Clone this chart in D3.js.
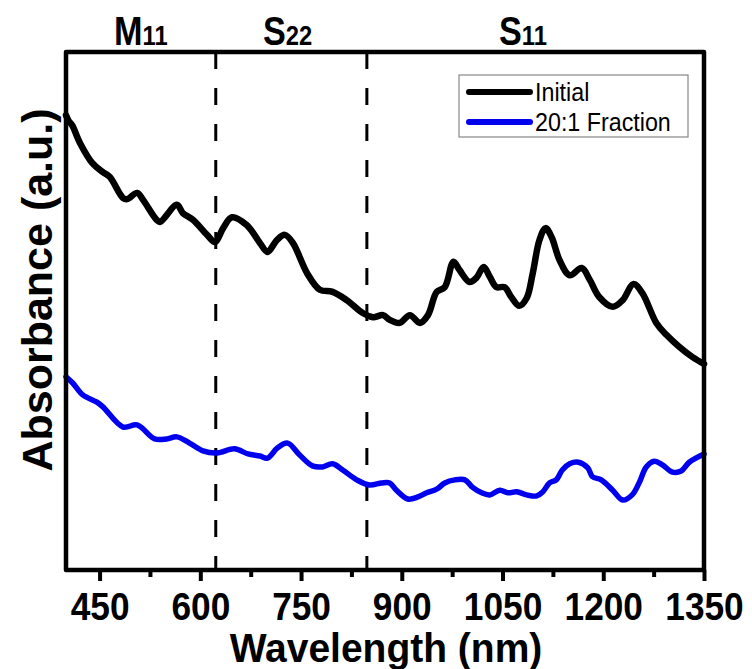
<!DOCTYPE html>
<html><head><meta charset="utf-8">
<script src="https://cdn.jsdelivr.net/npm/d3@7"></script>
<style>body{margin:0;background:#fff;}svg{display:block;}</style>
</head><body>
<script>
// Data (wavelength nm, absorbance a.u.)
const initialWl = [400,404,409,421,439,455,465,485,491,506,515,535,540,565,574,589,610,622,634,647,669,689,700,714,726,738,759,778,797,818,842,857,872,882,897,912,927,939,952,964,977,986,1001,1011,1022,1031,1041,1053,1063,1075,1086,1095,1105,1114,1123,1135,1150,1168,1180,1194,1214,1229,1245,1258,1279,1294,1313,1333,1350];
const initialAbs = [0.878,0.867,0.859,0.824,0.786,0.768,0.759,0.718,0.716,0.728,0.714,0.676,0.672,0.705,0.689,0.676,0.647,0.633,0.660,0.681,0.666,0.631,0.614,0.637,0.647,0.631,0.573,0.541,0.537,0.521,0.496,0.488,0.492,0.483,0.477,0.492,0.477,0.492,0.537,0.546,0.595,0.579,0.556,0.564,0.585,0.566,0.546,0.546,0.527,0.510,0.525,0.573,0.637,0.660,0.643,0.598,0.569,0.583,0.560,0.527,0.508,0.521,0.552,0.535,0.477,0.454,0.431,0.411,0.398];
const fractionWl = [400,410,425,446,455,485,506,532,550,565,584,604,625,651,671,689,700,715,730,748,767,782,797,812,833,852,870,882,892,909,924,937,952,964,979,994,1005,1019,1031,1046,1058,1071,1086,1101,1110,1120,1130,1139,1150,1163,1177,1184,1197,1214,1229,1243,1254,1264,1276,1288,1303,1316,1328,1350];
const fractionAbs = [0.373,0.361,0.338,0.324,0.315,0.276,0.280,0.253,0.253,0.257,0.245,0.230,0.226,0.234,0.224,0.220,0.216,0.236,0.245,0.222,0.201,0.199,0.205,0.193,0.174,0.164,0.168,0.168,0.154,0.137,0.141,0.149,0.156,0.168,0.174,0.174,0.160,0.149,0.145,0.154,0.149,0.151,0.145,0.143,0.151,0.168,0.174,0.193,0.205,0.208,0.197,0.180,0.174,0.154,0.135,0.145,0.170,0.199,0.210,0.203,0.189,0.191,0.208,0.224];
const majorTicks = [450,600,750,900,1050,1200,1350];
const minorTicks = [525,675,825,975,1125,1275];
const regionLines = [623,848];
const regionMain = ["M","S","S"];
const regionSub = ["11","22","11"];
const seriesNames = ["Initial","20:1 Fraction"];
const seriesColors = ["#000000","#0000ee"];

const W=752,H=669;
const L=66,R=704,T=52,B=570;
const svg=d3.select("body").append("svg").attr("width",W).attr("height",H);
const x=d3.scaleLinear().domain([400,1350]).range([L,R]);
const y=d3.scaleLinear().domain([0,1]).range([B,T]);
const font="'Liberation Sans', Arial, sans-serif";

// dashed region lines
svg.selectAll("line.reg").data(regionLines).enter().append("line")
  .attr("x1",d=>x(d)).attr("x2",d=>x(d)).attr("y1",T).attr("y2",B)
  .attr("stroke","#000").attr("stroke-width",3).attr("stroke-dasharray","17,19");

// curves
const line=(xs,ys)=>d3.line().curve(d3.curveCatmullRom.alpha(0.5)).x((d,i)=>x(xs[i])).y((d,i)=>y(ys[i]))(xs);
svg.append("path").attr("d",line(initialWl,initialAbs)).attr("fill","none").attr("stroke",seriesColors[0]).attr("stroke-width",6.5).attr("stroke-linejoin","round").attr("stroke-linecap","round");
svg.append("path").attr("d",line(fractionWl,fractionAbs)).attr("fill","none").attr("stroke",seriesColors[1]).attr("stroke-width",5.5).attr("stroke-linejoin","round").attr("stroke-linecap","round");

// frame
svg.append("rect").attr("x",L).attr("y",T).attr("width",R-L).attr("height",B-T)
  .attr("fill","none").attr("stroke","#000").attr("stroke-width",4.5).attr("stroke-linejoin","round");

// axis
const ax=d3.axisBottom(x).tickValues(majorTicks).tickSize(11).tickFormat(d3.format("d"));
const g=svg.append("g").attr("transform",`translate(0,${B})`).call(ax);
g.select(".domain").remove();
g.selectAll(".tick line").attr("stroke","#000").attr("stroke-width",4);
g.selectAll(".tick text").attr("font-family",font).attr("font-weight","bold").attr("font-size",36).attr("fill","#000").attr("y",0).attr("dy",null).attr("transform","translate(0,50) scale(0.98,1.08)");
const axm=d3.axisBottom(x).tickValues(minorTicks).tickSize(7).tickFormat("");
const gm=svg.append("g").attr("transform",`translate(0,${B})`).call(axm);
gm.select(".domain").remove();
gm.selectAll(".tick line").attr("stroke","#000").attr("stroke-width",4);

// axis titles
svg.append("text").attr("transform","translate(386,662) scale(1,1.05)").attr("text-anchor","middle")
  .attr("font-family",font).attr("font-weight","bold").attr("font-size",39).text("Wavelength (nm)");
svg.append("text").attr("transform","translate(52,290) rotate(-90)").attr("text-anchor","middle")
  .attr("font-family",font).attr("font-weight","bold").attr("font-size",43).text("Absorbance (a.u.)");

// region labels
const lblX=[114,263,499];
regionMain.forEach((m,i)=>{
  const t=svg.append("text").attr("transform",`translate(${lblX[i]},45) scale(0.95,1.12)`).attr("font-family",font).attr("font-weight","bold");
  t.append("tspan").attr("font-size",36).text(m);
  t.append("tspan").attr("font-size",25).text(regionSub[i]);
});

// legend
svg.append("rect").attr("x",459).attr("y",75).attr("width",229).attr("height",62).attr("fill","#fff").attr("stroke","#888").attr("stroke-width",1.2);
seriesNames.forEach((n,i)=>{
  const yy=92+i*30;
  svg.append("line").attr("x1",469).attr("x2",530).attr("y1",yy).attr("y2",yy).attr("stroke",seriesColors[i]).attr("stroke-width",6).attr("stroke-linecap","round");
  svg.append("text").attr("transform",`translate(535,${yy+8.5}) scale(0.97,1.08)`).attr("font-family",font).attr("font-size",24).attr("fill","#000").text(n);
});
</script>
</body></html>
